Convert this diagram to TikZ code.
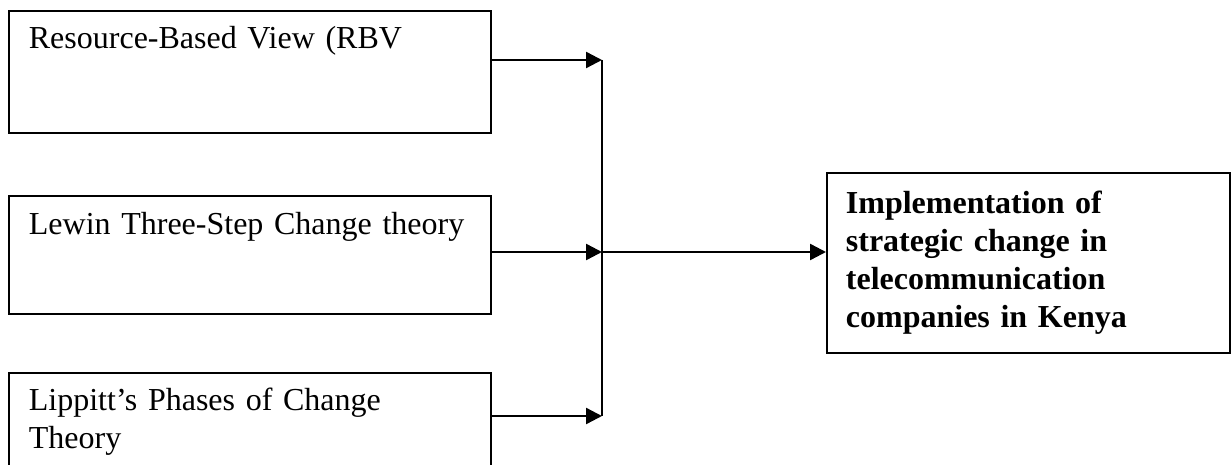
\documentclass[tikz,border=0pt]{standalone}
\usepackage{fontspec}
\setmainfont{Liberation Serif}
\usetikzlibrary{arrows.meta}
\begin{document}
\begin{tikzpicture}[
x=0.5pt,
y=-0.5pt,
theorybox/.style={
draw,
line width=0.9pt,
anchor=north west,
text width=221pt,
align=left,
inner xsep=10pt,
inner ysep=0pt,
text height=19pt,
},
goalbox/.style={
theorybox,
text width=182.5pt,
inner xsep=9.5pt,
text height=20.5pt,
text depth=69.5pt,
font=\fontsize{16}{19}\selectfont\bfseries,
},
myedge/.style={
-{Triangle[length=8pt,width=8pt]},
line width=1.2pt,
},
font=\fontsize{16}{19}\selectfont,
]
\useasboundingbox (0,0) rectangle (1232,465);

\node[theorybox, text depth=42pt] at (8,10) (rbv) {Resource-Based View (RBV};
\node[theorybox, text height=19.5pt, text depth=39.5pt] at (8,195) (lewin) {Lewin Three-Step Change theory};
\node[theorybox, text depth=41pt] at (8,372) (lippitt) {Lippitt’s Phases of Change\\Theory};
\node[goalbox] at (826,172) (impl) {Implementation of\\strategic change in\\telecommunication\\companies in Kenya};

\coordinate (jtop) at (602,60);
\coordinate (jmid) at (602,252);
\coordinate (jbot) at (602,416);

\draw[line width=0.8pt] (jtop) -- (jbot);

\draw[myedge] (rbv.east |- jtop) -- (jtop);
\draw[myedge] (lewin.east |- jmid) -- (jmid);
\draw[myedge] (lippitt.east |- jbot) -- (jbot);
\draw[myedge] (jmid) -- (impl.west |- jmid);

\end{tikzpicture}
\end{document}
